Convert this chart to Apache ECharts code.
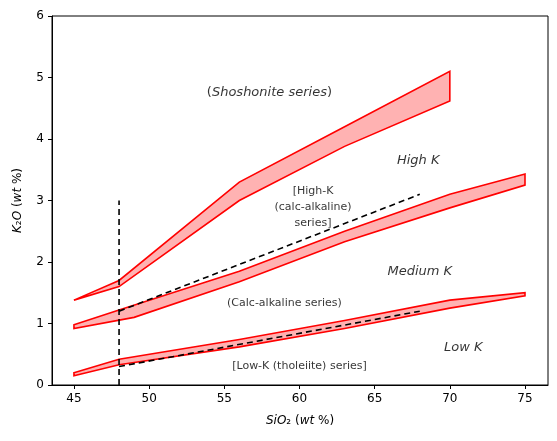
<!DOCTYPE html><html><head><meta charset="utf-8">
<script src="https://cdn.jsdelivr.net/npm/echarts@6/dist/echarts.min.js"></script>
<style>body{margin:0}#c{width:557px;height:441px}</style></head><body><div id="c"></div>
<script>
const shoshUpper=[[45,1.38],[48,1.7],[56,3.3],[63,4.2],[70,5.1]];
const shoshLower=[[45,1.38],[48,1.6],[56,3.0],[63,3.88],[70,4.62]];
const highUpper=[[45,0.98],[48,1.22],[56,1.85],[63,2.5],[70,3.1],[75,3.43]];
const highLower=[[45,0.92],[49,1.1],[56,1.68],[63,2.33],[70,2.88],[75,3.25]];
const lowUpper=[[45,0.2],[48,0.42],[56,0.74],[63,1.05],[70,1.38],[75,1.5]];
const lowLower=[[45,0.15],[48,0.33],[56,0.62],[63,0.92],[70,1.25],[75,1.45]];
const dashVert=[[48,0],[48,3]];
const dashHigh=[[48,1.2],[68,3.1]];
const dashLow=[[48,0.3],[68,1.2]];
const xTicks=[45,50,55,60,65,70,75];
const labels=[
 {p:[58.0,4.75],t:'{n|(}{i|Shoshonite series}{n|)}',big:true},
 {p:[67.9,3.65],t:'{i|High K}',big:true},
 {p:[60.9,2.9],t:'[High-K\n(calc-alkaline)\nseries]'},
 {p:[68.0,1.85],t:'{i|Medium K}',big:true},
 {p:[59.0,1.33],t:'(Calc-alkaline series)'},
 {p:[70.9,0.6],t:'{i|Low K}',big:true},
 {p:[60.0,0.3],t:'[Low-K (tholeiite) series]'}
];
const ff='DejaVu Sans';
function band(up,lo){
 const poly=up.concat(lo.slice().reverse());
 return {type:'custom',data:[0],renderItem:(p,api)=>({type:'polygon',shape:{points:poly.map(d=>api.coord(d))},style:{fill:'rgba(255,0,0,0.3)',stroke:'#ff0000',lineWidth:1.6}}),silent:true,z:2};
}
function dash(d){return {type:'line',data:d,symbol:'none',lineStyle:{color:'#000',type:[6,4],width:1.6},z:3,silent:true};}
const rich={i:{fontStyle:'italic',fontFamily:ff,fontSize:13,color:'#000'},n:{fontFamily:ff,fontSize:13,color:'#000'}};
const chart=echarts.init(document.getElementById('c'));
chart.setOption({
 animation:false,
 grid:{left:52,right:9,top:16,bottom:56},
 xAxis:{type:'value',min:43.54,max:76.53,interval:5,
  axisLabel:{formatter:v=>xTicks.includes(Math.round(v*1000)/1000)?String(v):'',customValues:xTicks,color:'#000',fontFamily:ff,fontSize:12},
  axisTick:{customValues:xTicks,length:4,lineStyle:{color:'#000'}},
  splitLine:{show:false},axisLine:{onZero:false,lineStyle:{color:'#000'}},
  name:'{i|SiO}₂ ({i|wt} %)',nameLocation:'middle',nameGap:30,nameTextStyle:{color:'#000',fontFamily:ff,fontSize:12,rich:{i:{fontStyle:'italic',fontFamily:ff,fontSize:12,color:'#000'}}}},
 yAxis:{type:'value',min:0,max:6,interval:1,
  axisLabel:{color:'#000',fontFamily:ff,fontSize:12},axisTick:{show:true,length:4,lineStyle:{color:'#000'}},
  splitLine:{show:false},axisLine:{show:true,lineStyle:{color:'#000'}},
  name:'{i|K}₂{i|O} ({i|wt} %)',nameLocation:'middle',nameGap:28,nameTextStyle:{color:'#000',fontFamily:ff,fontSize:12,rich:{i:{fontStyle:'italic',fontFamily:ff,fontSize:12,color:'#000'}}}},
 graphic:[{type:'rect',shape:{x:52,y:16,width:496,height:369},style:{fill:'none',stroke:'#000',lineWidth:1},silent:true}],
 series:[band(shoshUpper,shoshLower),band(highUpper,highLower),band(lowUpper,lowLower),
  dash(dashVert),dash(dashHigh),dash(dashLow),
  {type:'scatter',symbolSize:0,z:5,
   data:labels.map(l=>({value:l.p,label:{formatter:l.t,fontSize:l.big?13:11}})),
   label:{show:true,position:'inside',color:'#000',fontFamily:ff,
    fontSize:11,align:'center',verticalAlign:'middle',lineHeight:16,rich:rich}}
 ]
});
</script></body></html>
